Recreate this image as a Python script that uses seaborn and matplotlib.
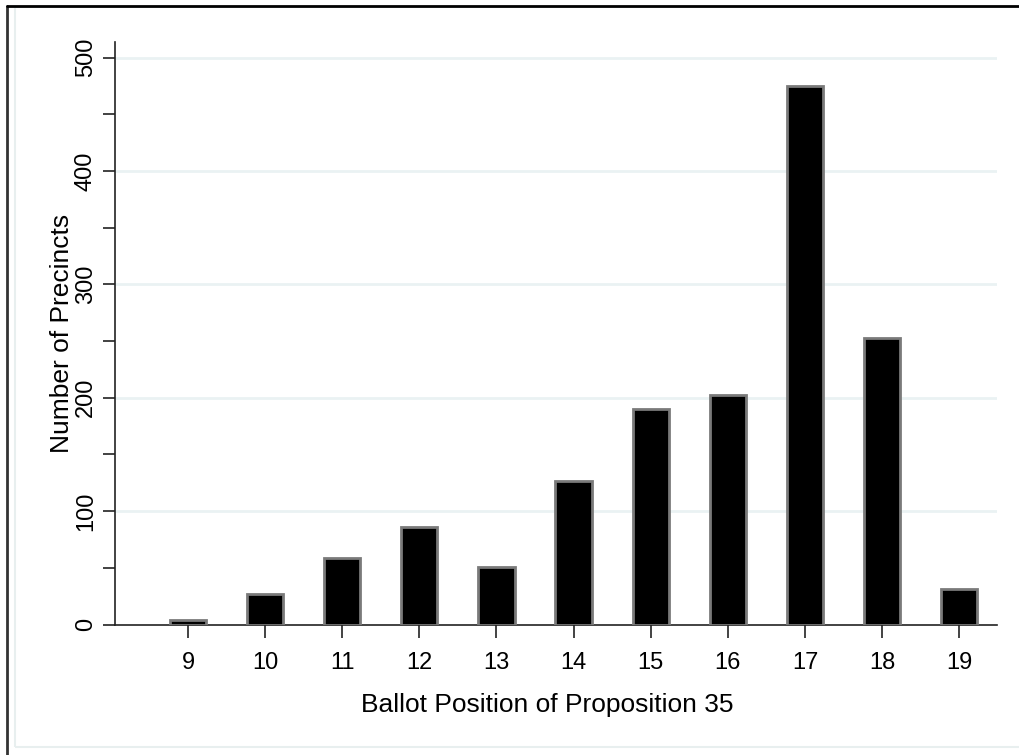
"""
Ballot position of Proposition 35 - number of precincts per position
"""

import pandas as pd
import matplotlib
matplotlib.use('Agg')
import matplotlib.pyplot as plt
from matplotlib.lines import Line2D
from matplotlib.patches import Rectangle
from matplotlib.ticker import MultipleLocator
import seaborn as sns

# data
positions = [9, 10, 11, 12, 13, 14, 15, 16, 17, 18, 19]
precincts = [4, 27, 59, 86, 51, 127, 190, 202, 475, 253, 31]
y_ticks = [0, 100, 200, 300, 400, 500]

sns.set_style("white")
plt.rcParams['font.family'] = ['Liberation Sans', 'DejaVu Sans']
plt.rcParams['text.color'] = 'black'
plt.rcParams['xtick.color'] = 'black'
plt.rcParams['ytick.color'] = 'black'
plt.rcParams['axes.labelcolor'] = 'black'

df = pd.DataFrame({'position': positions, 'precincts': precincts})

fig = plt.figure(figsize=(10.19, 7.55), dpi=100)
ax = fig.add_axes([0.1129, 0.1728, 0.8655, 0.772])

# stata-like outer frame (only top and left edges are visible in the crop)
fig.patches.append(Rectangle((15 / 1019, 8 / 755), 1.1, 740 / 755, transform=fig.transFigure,
                             facecolor='none', edgecolor='#e8efef', linewidth=1.5))
fig.lines.append(Line2D([7 / 1019, 7 / 1019], [0, 1 - 6 / 755], transform=fig.transFigure,
                        color='#333333', linewidth=2))
fig.lines.append(Line2D([7 / 1019, 1], [1 - 6 / 755, 1 - 6 / 755], transform=fig.transFigure,
                        color='#000000', linewidth=2))

sns.barplot(data=df, x='position', y='precincts', native_scale=True, width=0.47,
            color='black', saturation=1, edgecolor='#7a7a7a', linewidth=2, ax=ax, zorder=3)

ax.set_xlim(8.054, 19.49)
ax.set_ylim(0, 514)

for v in y_ticks[1:]:
    ax.axhline(v, color='#eaf2f3', linewidth=2, zorder=1)

ax.set_xticks(positions)
ax.set_xticklabels([str(p) for p in positions], fontsize=17)
ax.set_yticks(y_ticks)
ax.set_yticklabels([str(v) for v in y_ticks], fontsize=17, rotation=90, va='center')
ax.yaxis.set_minor_locator(MultipleLocator(50))

ax.tick_params(axis='both', which='both', direction='out', length=9, width=1.2,
               color='#222222', bottom=True, left=True)
ax.tick_params(axis='x', pad=11)
ax.tick_params(axis='y', pad=4)

for side in ['top', 'right']:
    ax.spines[side].set_visible(False)
for side in ['left', 'bottom']:
    ax.spines[side].set_color('#222222')
    ax.spines[side].set_linewidth(1.2)

ax.set_xlabel('Ballot Position of Proposition 35', fontsize=19)
ax.xaxis.label.set_va('center')
ax.xaxis.set_label_coords(0.49, -0.138)
ax.set_ylabel('Number of Precincts', fontsize=19)
ax.yaxis.label.set_va('center')
ax.yaxis.set_label_coords(-0.060, 0.5)

fig.savefig('out.png', dpi=100)
